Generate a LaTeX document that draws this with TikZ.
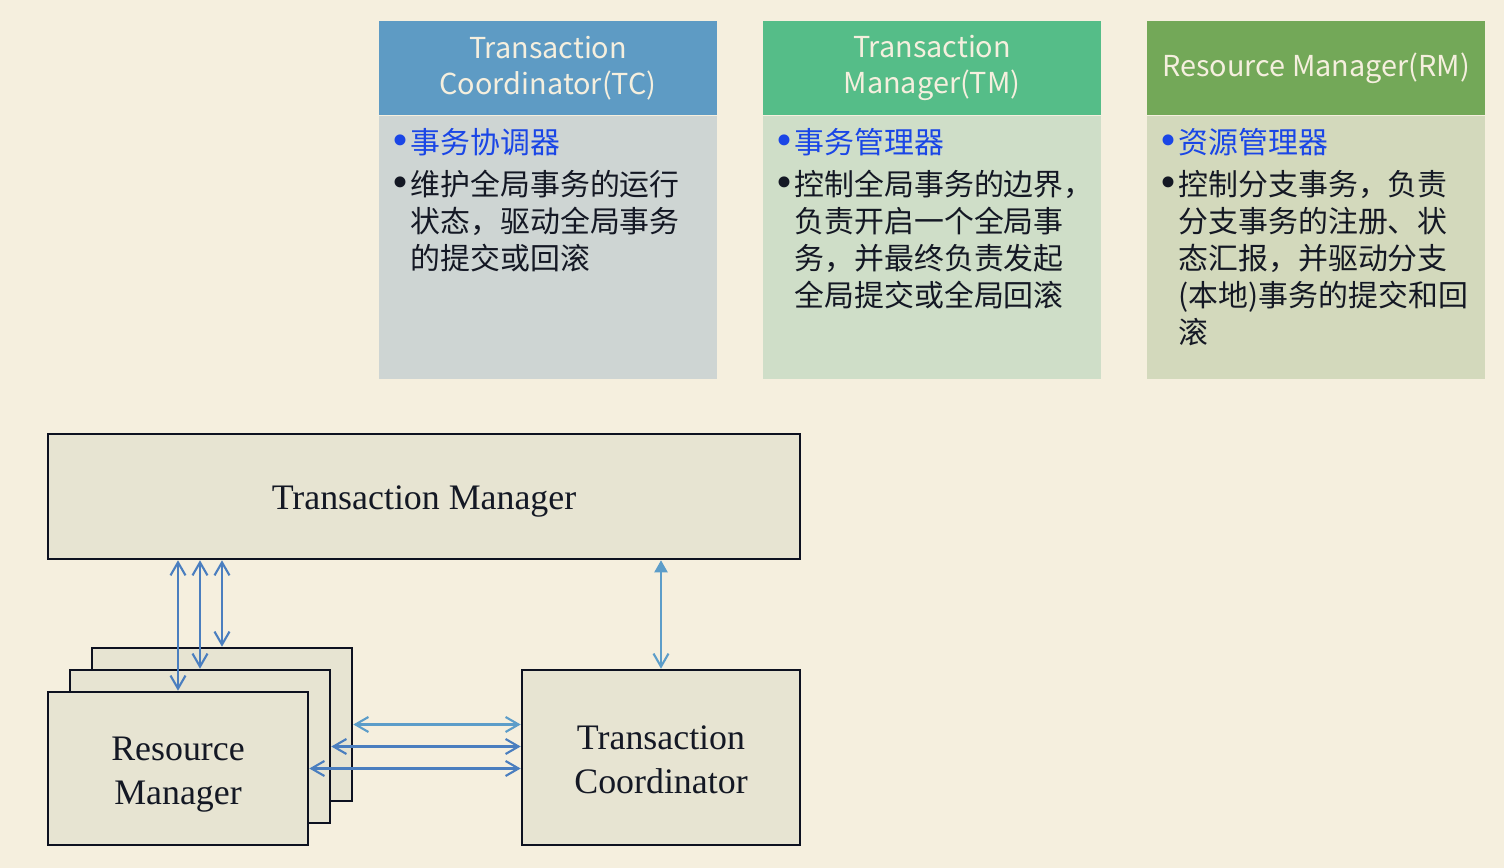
\documentclass[tikz,border=0pt]{standalone}
\usepackage{fontspec}
\setmainfont{Liberation Serif}
\newfontfamily\cjk{Noto Sans CJK SC}
\usepackage{xcolor}
\usetikzlibrary{arrows.meta, positioning, calc}

\definecolor{pagebg}{HTML}{F5EFDE}
\definecolor{boxfill}{HTML}{E7E4D2}
\definecolor{boxline}{HTML}{0D1120}
\definecolor{tchead}{HTML}{5E9BC4}
\definecolor{tcbody}{HTML}{CED5D3}
\definecolor{tmhead}{HTML}{55BD88}
\definecolor{tmbody}{HTML}{CFDEC8}
\definecolor{rmhead}{HTML}{73A858}
\definecolor{rmbody}{HTML}{D3D9BC}
\definecolor{itemblue}{HTML}{1A46E6}
\definecolor{textdark}{HTML}{141824}
\definecolor{linkblue}{HTML}{4A7EBF}
\definecolor{linklight}{HTML}{5C9DC9}

\newcommand{\bul}{\makebox[0.18cm][l]{\rmfamily\fontsize{13}{10}\selectfont\raisebox{-0.4pt}{•}}}
\newcommand{\ind}{\hspace*{0.18cm}}

\tikzset{
  panelhead/.style={
    fill=#1, inner sep=0pt, align=center, text=pagebg,
    minimum width=3.38cm, minimum height=0.94cm,
    font=\cjk\fontsize{8.2}{10.2}\selectfont
  },
  panelbody/.style={
    fill=#1, inner sep=0pt,
    minimum width=3.38cm, minimum height=2.62cm
  },
  paneltext/.style={
    anchor=north west, inner sep=0pt, align=left, text=textdark,
    font=\cjk\fontsize{8.5}{10.5}\selectfont
  },
  compbox/.style={
    draw=boxline, line width=0.7pt, fill=boxfill, align=center,
    text=textdark, inner sep=0pt,
    font=\fontsize{10.2}{12.5}\selectfont
  },
  linkarrow/.style={
    {Straight Barb[length=1.3mm, width=1.5mm]}-{Straight Barb[length=1.3mm, width=1.5mm]},
    line width=0.6pt, color=linkblue
  },
  linkarrowup/.style={
    {Triangle[length=1.2mm, width=1.3mm]}-{Straight Barb[length=1.3mm, width=1.5mm]},
    line width=0.6pt, color=linklight
  },
}

\begin{document}
\begin{tikzpicture}[x=0.01cm, y=-0.01cm]
  \fill[pagebg] (0,0) rectangle (1504,868);
  \useasboundingbox (0,0) rectangle (1504,868);

  % ── Role panels ────────────────────────────────────────────────
  \node[panelhead=tchead] (tchd) at (548,68) {Transaction\\Coordinator(TC)};
  \node[panelbody=tcbody, anchor=north] (tcbd) at (tchd.south) {};
  \node[paneltext] (tctxt) at (392,128)
    {{\color{itemblue}\bul 事务协调器}\\[1.4pt]
     \bul 维护全局事务的运行\\
     \ind 状态，驱动全局事务\\
     \ind 的提交或回滚};

  \node[panelhead=tmhead] (tmhd) at (932,68) {Transaction\\Manager(TM)};
  \node[panelbody=tmbody, anchor=north] (tmbd) at (tmhd.south) {};
  \node[paneltext] (tmtxt) at (776,128)
    {{\color{itemblue}\bul 事务管理器}\\[1.4pt]
     \bul 控制全局事务的边界，\\
     \ind 负责开启一个全局事\\
     \ind 务，并最终负责发起\\
     \ind 全局提交或全局回滚};

  \node[panelhead=rmhead] (rmhd) at (1316,68) {Resource Manager(RM)};
  \node[panelbody=rmbody, anchor=north] (rmbd) at (rmhd.south) {};
  \node[paneltext] (rmtxt) at (1160,128)
    {{\color{itemblue}\bul 资源管理器}\\[1.4pt]
     \bul 控制分支事务，负责\\
     \ind 分支事务的注册、状\\
     \ind 态汇报，并驱动分支\\
     \ind (本地)事务的提交和回\\
     \ind 滚};

  % ── Components ─────────────────────────────────────────────────
  \node[compbox, minimum width=7.52cm, minimum height=1.25cm, text height=9.4pt]
    (tm) at (424,496.5) {Transaction Manager};

  \node[compbox, minimum width=2.6cm, minimum height=1.53cm]
    (rmback) at (222,724.5) {};
  \node[compbox, minimum width=2.6cm, minimum height=1.53cm]
    (rmmid) at (200,746.5) {};
  \node[compbox, minimum width=2.6cm, minimum height=1.53cm, text height=22.6pt]
    (rmfront) at (178,768.5) {Resource\\Manager};

  \node[compbox, minimum width=2.78cm, minimum height=1.75cm, text height=20.3pt]
    (tc) at (661,757.5) {Transaction\\Coordinator};

  % ── Links ──────────────────────────────────────────────────────
  \draw[linkarrow] (rmfront.north |- tm.south) -- (rmfront.north);
  \draw[linkarrow] (rmmid.north |- tm.south) -- (rmmid.north);
  \draw[linkarrow] (rmback.north |- tm.south) -- (rmback.north);

  \draw[linkarrowup] (tc.north |- tm.south) -- (tc.north);

  \draw[linkarrow, color=linklight] (rmback.east) -- (rmback.east -| tc.west);
  \draw[linkarrow] (rmmid.east) -- (rmmid.east -| tc.west);
  \draw[linkarrow] (rmfront.east) -- (rmfront.east -| tc.west);
\end{tikzpicture}
\end{document}
